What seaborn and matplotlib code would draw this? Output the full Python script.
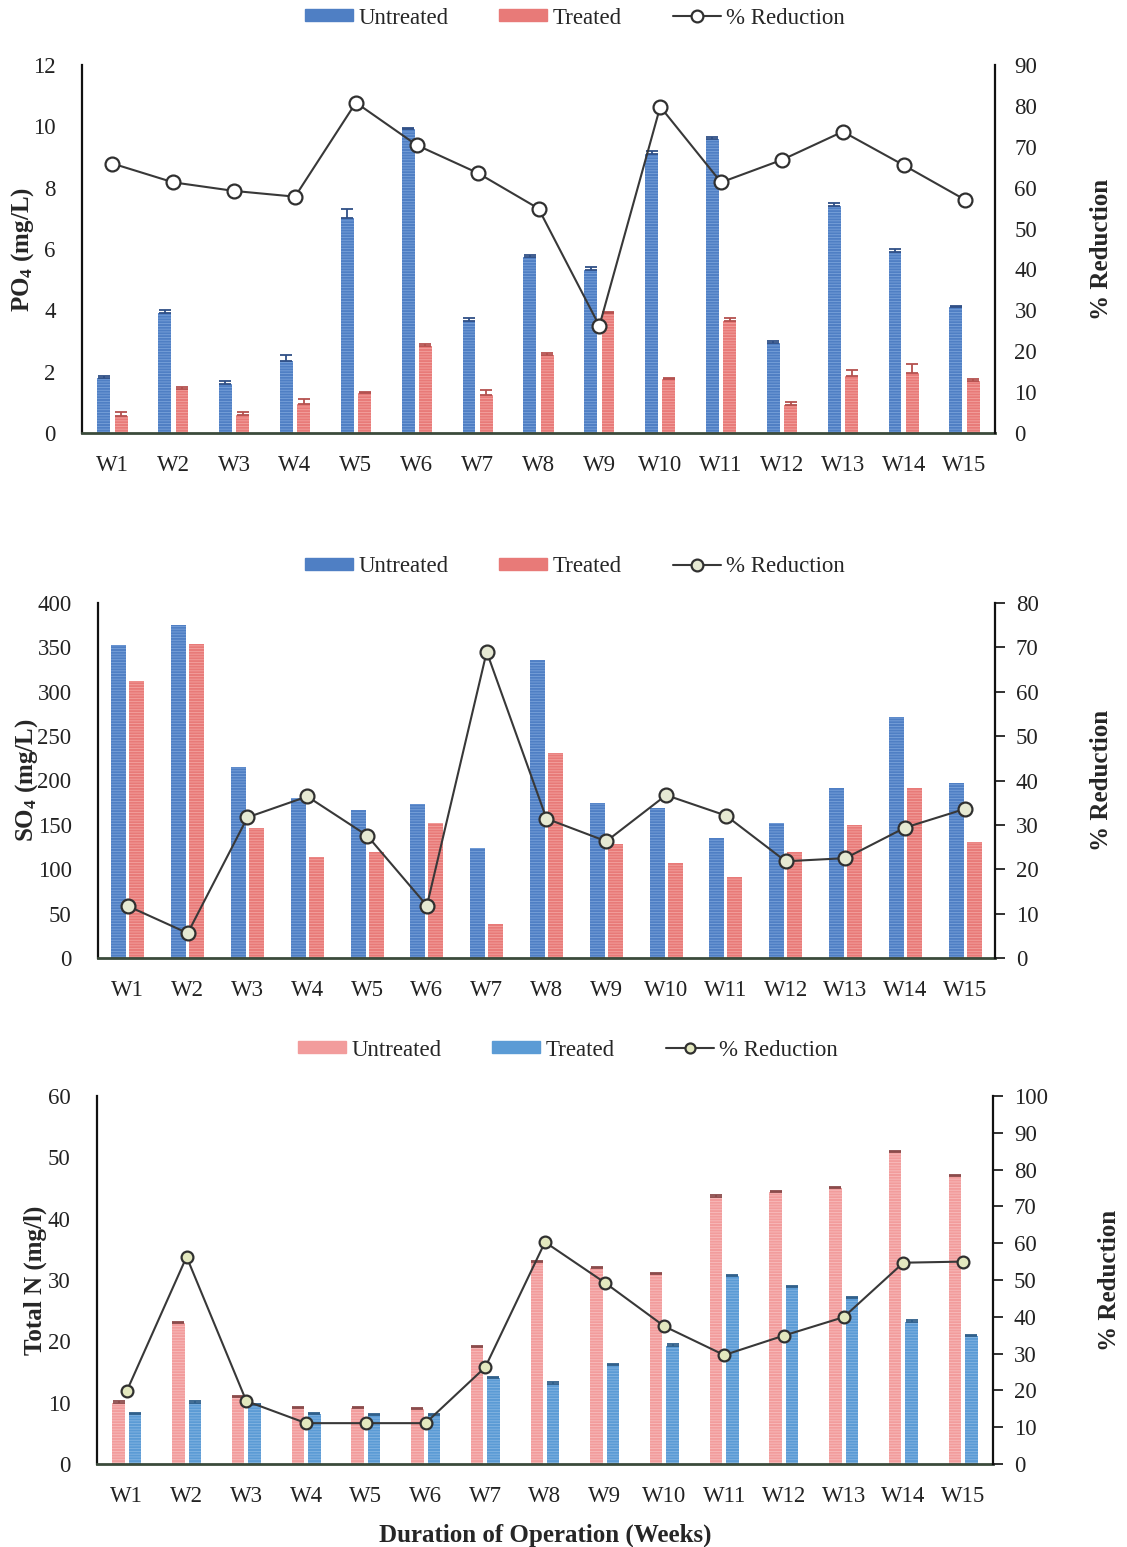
import numpy as np
import pandas as pd
import matplotlib
matplotlib.use("Agg")
import matplotlib.pyplot as plt
import seaborn as sns
from matplotlib.patches import Patch
from matplotlib.lines import Line2D

weeks = [f"W{i}" for i in range(1, 16)]

# Panel 1: PO4
po4_untreated = [1.8, 3.9, 1.6, 2.35, 7.0, 9.9, 3.65, 5.75, 5.3, 9.1, 9.6, 2.95, 7.4, 5.9, 4.1]
po4_treated = [0.55, 1.45, 0.6, 0.95, 1.3, 2.85, 1.25, 2.55, 3.9, 1.75, 3.65, 0.9, 1.85, 1.95, 1.7]
po4_untreated_err = [0.05, 0.1, 0.1, 0.2, 0.3, 0.05, 0.1, 0.05, 0.1, 0.1, 0.05, 0.05, 0.1, 0.1, 0.05]
po4_treated_err = [0.15, 0.05, 0.1, 0.15, 0.05, 0.05, 0.15, 0.05, 0.05, 0.05, 0.1, 0.1, 0.2, 0.3, 0.05]
po4_reduction = [65.9, 61.3, 59.2, 57.8, 80.8, 70.4, 63.6, 54.9, 26.2, 79.8, 61.3, 66.8, 73.7, 65.5, 57.1]

# Panel 2: SO4
so4_untreated = [353, 375, 215, 180, 167, 173, 124, 336, 175, 169, 135, 152, 192, 271, 197]
so4_treated = [312, 354, 147, 114, 120, 152, 38, 231, 129, 107, 91, 119, 150, 192, 131]
so4_reduction = [11.7, 5.6, 31.7, 36.4, 27.6, 11.8, 69.0, 31.4, 26.3, 36.7, 32.1, 21.8, 22.5, 29.4, 33.6]

# Panel 3: Total N
tn_untreated = [10.0, 23.0, 10.9, 9.1, 9.1, 9.0, 19.0, 32.9, 31.9, 30.9, 43.6, 44.3, 45.0, 50.9, 47.0]
tn_treated = [8.1, 10.0, 9.6, 8.1, 8.0, 8.0, 14.0, 13.1, 16.1, 19.3, 30.6, 28.8, 27.0, 23.2, 20.9]
tn_untreated_err = [0.2, 0.2, 0.2, 0.2, 0.2, 0.2, 0.2, 0.2, 0.2, 0.2, 0.2, 0.2, 0.2, 0.2, 0.2]
tn_treated_err = [0.2, 0.2, 0.2, 0.2, 0.2, 0.2, 0.2, 0.2, 0.2, 0.2, 0.2, 0.2, 0.2, 0.2, 0.2]
tn_reduction = [19.9, 56.3, 17.1, 11.1, 11.1, 11.1, 26.3, 60.3, 49.3, 37.4, 29.6, 34.9, 39.9, 54.7, 55.0]

series_labels = ["Untreated", "Treated"]

sns.set_theme(style="white")
plt.rcParams["font.family"] = ["Liberation Serif", "DejaVu Serif"]
plt.rcParams["mathtext.default"] = "regular"
plt.rcParams["hatch.linewidth"] = 0.6

FS = 16.5
LFS = 18

fig = plt.figure(figsize=(11.27, 15.47), dpi=100)

BLUE1, RED1 = "#4f7fc4", "#e87a78"
BLUE3, PINK3 = "#5b9bd5", "#f29c9c"
LINE = "#383838"


def make_df(u, t):
    return pd.DataFrame({
        "week": weeks * 2,
        "value": list(u) + list(t),
        "status": [series_labels[0]] * len(weeks) + [series_labels[1]] * len(weeks),
    })


def panel(rect, u, t, red, colors, hatch_colors, width, gap, ylim, ystep, rlim, rstep,
          ylabel, ylab_x, rlab_x, errs=None, err_colors=None, mface="white", msize=10,
          right_ticks=True, leg_xy=(0.51, 0.99), mew=1.6):
    ax = fig.add_axes(rect)
    df = make_df(u, t)
    sns.barplot(data=df, x="week", y="value", hue="status", palette=colors,
                width=width, gap=gap, ax=ax, legend=False, saturation=1,
                order=weeks, hue_order=series_labels)
    for cont, hc in zip(ax.containers, hatch_colors):
        for b in cont:
            b.set_hatch("------")
            b.set_edgecolor(hc)
            b.set_linewidth(0)
    if errs is not None:
        for cont, e, ec in zip(ax.containers, errs, err_colors):
            xs = [b.get_x() + b.get_width() / 2 for b in cont]
            ys = [b.get_height() for b in cont]
            ax.errorbar(xs, ys, yerr=[np.zeros(len(e)), e], fmt="none", ecolor=ec,
                        elinewidth=1.3, capsize=4, capthick=1.3, zorder=3)
    ax.set_xlim(-0.5, len(weeks) - 0.5)
    ax.set_ylim(*ylim)
    ax.set_yticks(np.arange(ylim[0], ylim[1] + ystep / 2, ystep))
    ax.set_xlabel("")
    ax.set_ylabel(ylabel, fontsize=LFS, fontweight="bold")
    ax.yaxis.set_label_coords(ylab_x, 0.5)
    ax.tick_params(axis="both", labelsize=FS, length=0, colors="#222222")
    ax.tick_params(axis="y", pad=19)
    ax.tick_params(axis="x", pad=16)
    for s in ["top", "right"]:
        ax.spines[s].set_visible(False)
    ax.spines["left"].set_color("#111111")
    ax.spines["left"].set_linewidth(1.6)
    ax.spines["bottom"].set_color("#3b4b3b")
    ax.spines["bottom"].set_linewidth(2.0)

    ax2 = ax.twinx()
    sns.pointplot(x=weeks, y=red, ax=ax2, color=LINE, markers="o", linestyles="-",
                  linewidth=1.5, markersize=msize, markeredgewidth=mew, errorbar=None)
    for ln in ax2.lines:
        ln.set_markerfacecolor(mface)
        ln.set_markeredgecolor("#303030")
    ax2.set_xlim(-0.5, len(weeks) - 0.5)
    ax2.set_ylim(*rlim)
    ax2.set_yticks(np.arange(rlim[0], rlim[1] + rstep / 2, rstep))
    ax2.set_ylabel("% Reduction", fontsize=LFS, fontweight="bold")
    ax2.yaxis.set_label_coords(rlab_x, 0.5)
    if right_ticks:
        ax2.tick_params(axis="y", labelsize=FS, length=7, width=1.3, direction="out",
                        pad=8, colors="#222222")
    else:
        ax2.tick_params(axis="y", labelsize=FS, length=0, pad=14, colors="#222222")
    for s in ["top", "left", "bottom"]:
        ax2.spines[s].set_visible(False)
    ax2.spines["right"].set_color("#111111")
    ax2.spines["right"].set_linewidth(1.6)
    ax2.grid(False)
    ax.grid(False)

    handles = [
        Patch(facecolor=colors[0], edgecolor=colors[0]),
        Patch(facecolor=colors[1], edgecolor=colors[1]),
        Line2D([0], [0], color=LINE, lw=1.5, marker="o", markersize=msize * 0.85,
               markerfacecolor=mface, markeredgecolor="#303030", markeredgewidth=mew),
    ]
    fig.legend(handles, series_labels + ["% Reduction"], loc="center",
               bbox_to_anchor=leg_xy, ncol=3, frameon=False, fontsize=FS,
               handlelength=2.1, handleheight=0.45, handletextpad=0.25,
               columnspacing=2.2)
    return ax, ax2


W, H = 1127, 1547

panel([82 / W, 1 - 433 / H, 913 / W, 368 / H], po4_untreated, po4_treated, po4_reduction,
      [BLUE1, RED1], ["#7aa2da", "#f3a3a0"], 0.57, 0.26, (0, 12), 2, (0, 90), 10,
      "PO$_4$ (mg/L)", -0.050, 1.104,
      errs=[po4_untreated_err, po4_treated_err], err_colors=["#2f4f86", "#b4504e"],
      mface="white", msize=10, right_ticks=False, leg_xy=(575 / W, 1 - 18 / H))

panel([98 / W, 1 - 958 / H, 897 / W, 355 / H], so4_untreated, so4_treated, so4_reduction,
      [BLUE1, RED1], ["#7aa2da", "#f3a3a0"], 0.60, 0.17, (0, 400), 50, (0, 80), 10,
      "SO$_4$ (mg/L)", -0.065, 1.106,
      mface="#e6e9d3", msize=10, right_ticks=True, leg_xy=(575 / W, 1 - 567 / H))

ax3, ax3b = panel([97 / W, 1 - 1464 / H, 896 / W, 368 / H], tn_untreated, tn_treated, tn_reduction,
                  [PINK3, BLUE3], ["#f7bdbd", "#86b6e2"], 0.55, 0.24, (0, 60), 10, (0, 100), 10,
                  "Total N (mg/l)", -0.056, 1.117,
                  errs=[tn_untreated_err, tn_treated_err], err_colors=["#8a4a4a", "#2f5f8a"],
                  mface="#e3e8bf", msize=8.5, right_ticks=True, leg_xy=(568 / W, 1 - 1050 / H))
ax3.set_xlabel("Duration of Operation (Weeks)", fontsize=LFS, fontweight="bold", labelpad=12)

fig.savefig("out.png", dpi=100, facecolor="white")
